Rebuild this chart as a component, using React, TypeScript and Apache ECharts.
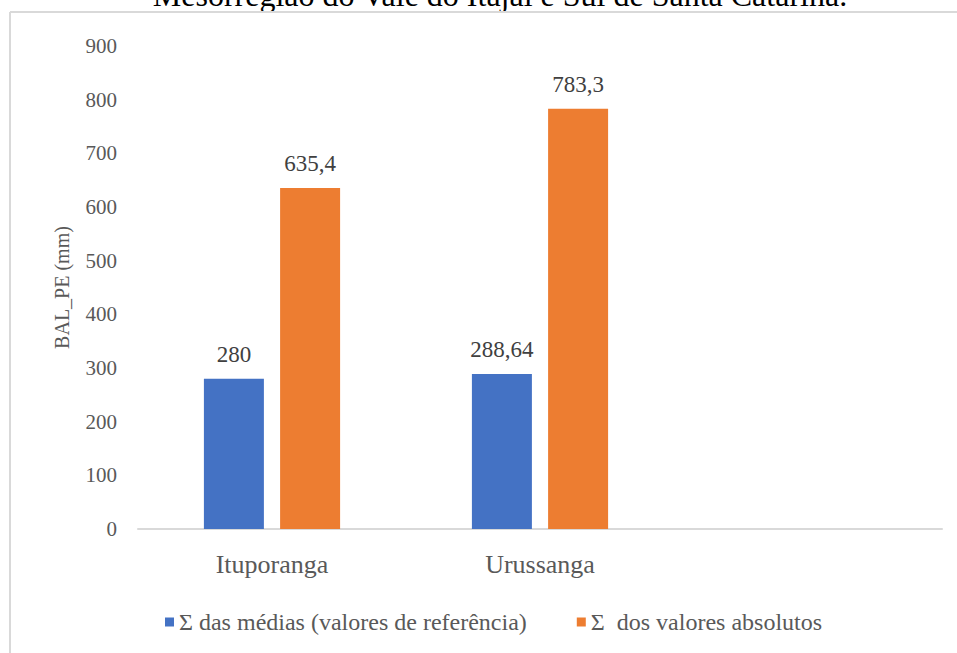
import React, { useEffect, useRef } from "react";
import * as echarts from "echarts";

const titleText = "Mesorregião do Vale do Itajaí e Sul de Santa Catarina.";
const categories = ["Ituporanga", "Urussanga", ""];
const seriesNames = ["Σ das médias (valores de referência)", "Σ  dos valores absolutos"];
const mediasValues = [280, 288.64, null];
const absolutosValues = [635.4, 783.3, null];
const yTitle = "BAL_PE (mm)";

const FONT = "'Liberation Serif', 'Times New Roman', serif";

export default function App() {
  const ref = useRef<HTMLDivElement>(null);
  useEffect(() => {
    if (!ref.current) return;
    const chart = echarts.init(ref.current, null, { renderer: "svg" });
    const labelFmt = (p: any) =>
      p.value == null ? "" : String(p.value).replace(".", ",");
    const dataLabel = {
      show: true,
      position: "top",
      distance: 13,
      formatter: labelFmt,
      fontFamily: FONT,
      fontSize: 23,
      color: "#404040",
    };
    chart.setOption({
      animation: false,
      backgroundColor: "#ffffff",
      textStyle: { fontFamily: FONT },
      graphic: [
        {
          type: "text",
          x: 500,
          y: 11,
          style: {
            text: titleText,
            font: `32px ${FONT}`,
            fill: "#000000",
            textAlign: "center",
            textVerticalAlign: "bottom",
          },
        },
        {
          type: "line",
          shape: { x1: 10, y1: 12, x2: 957, y2: 12 },
          style: { stroke: "#d9d9d9", lineWidth: 2 },
        },
        {
          type: "line",
          shape: { x1: 10, y1: 12, x2: 10, y2: 653 },
          style: { stroke: "#d9d9d9", lineWidth: 2 },
        },
      ],
      legend: {
        left: 160,
        top: 605,
        itemWidth: 9,
        itemHeight: 9,
        itemGap: 50,
        icon: "rect",
        textStyle: { fontFamily: FONT, fontSize: 24, color: "#595959" },
        data: seriesNames,
      },
      grid: { left: 138, right: 15, top: 46, bottom: 124, containLabel: false },
      xAxis: {
        type: "category",
        data: categories,
        axisLine: { show: true, lineStyle: { color: "#d9d9d9", width: 2 } },
        axisTick: { show: false },
        axisLabel: { fontFamily: FONT, fontSize: 26, color: "#595959", margin: 22 },
      },
      yAxis: {
        type: "value",
        min: 0,
        max: 900,
        interval: 100,
        name: yTitle,
        nameLocation: "middle",
        nameGap: 66,
        nameTextStyle: { fontFamily: FONT, fontSize: 20, color: "#595959" },
        axisLine: { show: false },
        axisTick: { show: false },
        splitLine: { show: false },
        axisLabel: { fontFamily: FONT, fontSize: 21, color: "#595959", margin: 21 },
      },
      series: [
        {
          name: seriesNames[0],
          type: "bar",
          data: mediasValues,
          barWidth: 60,
          barGap: "27%",
          itemStyle: { color: "#4472C4" },
          label: dataLabel,
        },
        {
          name: seriesNames[1],
          type: "bar",
          data: absolutosValues,
          barWidth: 60,
          barGap: "27%",
          itemStyle: { color: "#ED7D31" },
          label: dataLabel,
        },
      ],
    });
    return () => chart.dispose();
  }, []);
  return (
    <div
      ref={ref}
      style={{ position: "fixed", left: 0, top: 0, width: 957, height: 653 }}
    />
  );
}
